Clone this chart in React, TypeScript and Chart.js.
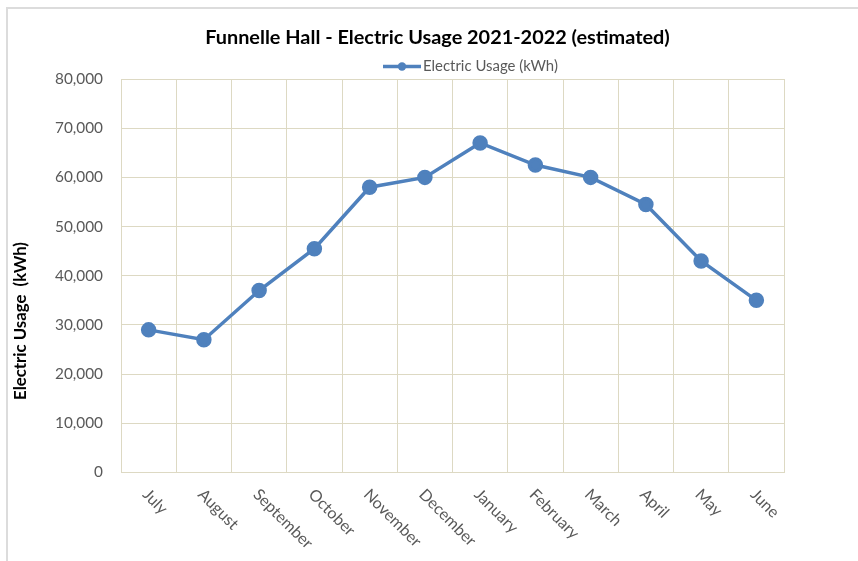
import React, { useEffect, useRef } from "react";
import { Chart, registerables } from "chart.js";

Chart.register(...registerables);

const months = ["July", "August", "September", "October", "November", "December", "January", "February", "March", "April", "May", "June"];
const usage = [29000, 27000, 37000, 45500, 58000, 60000, 67000, 62500, 60000, 54500, 43000, 35000];
const titleText = "Funnelle Hall - Electric Usage 2021-2022 (estimated)";
const legendText = "Electric Usage (kWh)";
const yTitleText = "Electric Usage  (kWh)";

const FAMILY = "Lato, 'Open Sans', sans-serif";
const BLUE = "#4F81BD";
const GRID = "#DDD9C3";
const GREY = "#595959";

function fitSize(text: string, weight: string, target: number): number {
  const c = document.createElement("canvas").getContext("2d")!;
  c.font = `${weight} 100px ${FAMILY}`;
  return (100 * target) / c.measureText(text).width;
}

export default function App() {
  const ref = useRef<HTMLCanvasElement | null>(null);

  useEffect(() => {
    const canvas = ref.current!;
    const tickSize = fitSize("80,000", "normal", 48);
    const xSize = fitSize("November", "normal", 74);
    const legendSize = fitSize(legendText, "normal", 135);
    const titleSize = fitSize(titleText, "bold", 465);
    const yTitleSize = fitSize(yTitleText, "bold", 158);

    const decor = {
      id: "decor",
      beforeDraw(chart: any) {
        const ctx = chart.ctx;
        ctx.save();
        ctx.fillStyle = "#dcdcdc";
        ctx.fillRect(6, 8, 2, 561);
        ctx.fillRect(6, 7, 860, 2);
        ctx.restore();
      },
      afterDraw(chart: any) {
        const ctx = chart.ctx;
        const area = chart.chartArea;
        const xs = chart.scales.x;
        ctx.save();
        // title
        ctx.fillStyle = "#000";
        ctx.font = `bold ${titleSize}px ${FAMILY}`;
        ctx.textAlign = "center";
        ctx.textBaseline = "middle";
        ctx.fillText(titleText, 437.5, 38);
        // legend
        ctx.strokeStyle = BLUE;
        ctx.lineWidth = 3.5;
        ctx.beginPath();
        ctx.moveTo(383, 66.5);
        ctx.lineTo(421, 66.5);
        ctx.stroke();
        ctx.fillStyle = BLUE;
        ctx.beginPath();
        ctx.arc(402, 66.5, 4.2, 0, Math.PI * 2);
        ctx.fill();
        ctx.fillStyle = GREY;
        ctx.font = `${legendSize}px ${FAMILY}`;
        ctx.textAlign = "left";
        ctx.fillText(legendText, 423, 66.5);
        // y title
        ctx.save();
        ctx.translate(21, 321);
        ctx.rotate(-Math.PI / 2);
        ctx.fillStyle = "#000";
        ctx.font = `bold ${yTitleSize}px ${FAMILY}`;
        ctx.textAlign = "center";
        ctx.textBaseline = "middle";
        ctx.fillText(yTitleText, 0, 0);
        ctx.restore();
        // x labels
        ctx.fillStyle = GREY;
        ctx.font = `${xSize}px ${FAMILY}`;
        ctx.textAlign = "left";
        ctx.textBaseline = "alphabetic";
        months.forEach((m, i) => {
          const x = xs.getPixelForValue(i);
          ctx.save();
          ctx.translate(x - 7, area.bottom + 23);
          ctx.rotate(Math.PI / 4);
          ctx.fillText(m, 0, 0);
          ctx.restore();
        });
        ctx.restore();
      },
    };

    const chart = new Chart(canvas, {
      type: "line",
      data: {
        labels: months,
        datasets: [
          {
            label: legendText,
            data: usage,
            borderColor: BLUE,
            backgroundColor: BLUE,
            pointBackgroundColor: BLUE,
            pointBorderColor: BLUE,
            borderWidth: 3.5,
            pointRadius: 6,
            tension: 0,
          },
        ],
      },
      options: {
        animation: false,
        responsive: false,
        devicePixelRatio: 1,
        layout: { padding: { left: 0, top: 79, right: 74, bottom: 88.5 } },
        plugins: { legend: { display: false }, title: { display: false }, tooltip: { enabled: false } },
        scales: {
          x: {
            offset: true,
            grid: { offset: true, color: GRID, drawTicks: false, lineWidth: 1 },
            border: { color: GRID },
            ticks: { display: false },
            afterFit: (s: any) => {
              s.height = 0;
            },
          },
          y: {
            min: 0,
            max: 80000,
            grid: { color: GRID, drawTicks: false },
            border: { color: GRID },
            ticks: {
              stepSize: 10000,
              padding: 18,
              color: GREY,
              font: { family: FAMILY, size: tickSize },
              callback: (v: any) => Number(v).toLocaleString("en-US"),
            },
            afterFit: (s: any) => {
              s.width = 121;
            },
          },
        },
      },
      plugins: [decor],
    });
    return () => chart.destroy();
  }, []);

  return (
    <canvas
      ref={ref}
      width={858}
      height={561}
      style={{ position: "fixed", left: 0, top: 0, width: 858, height: 561, display: "block", background: "#fff" }}
    />
  );
}
